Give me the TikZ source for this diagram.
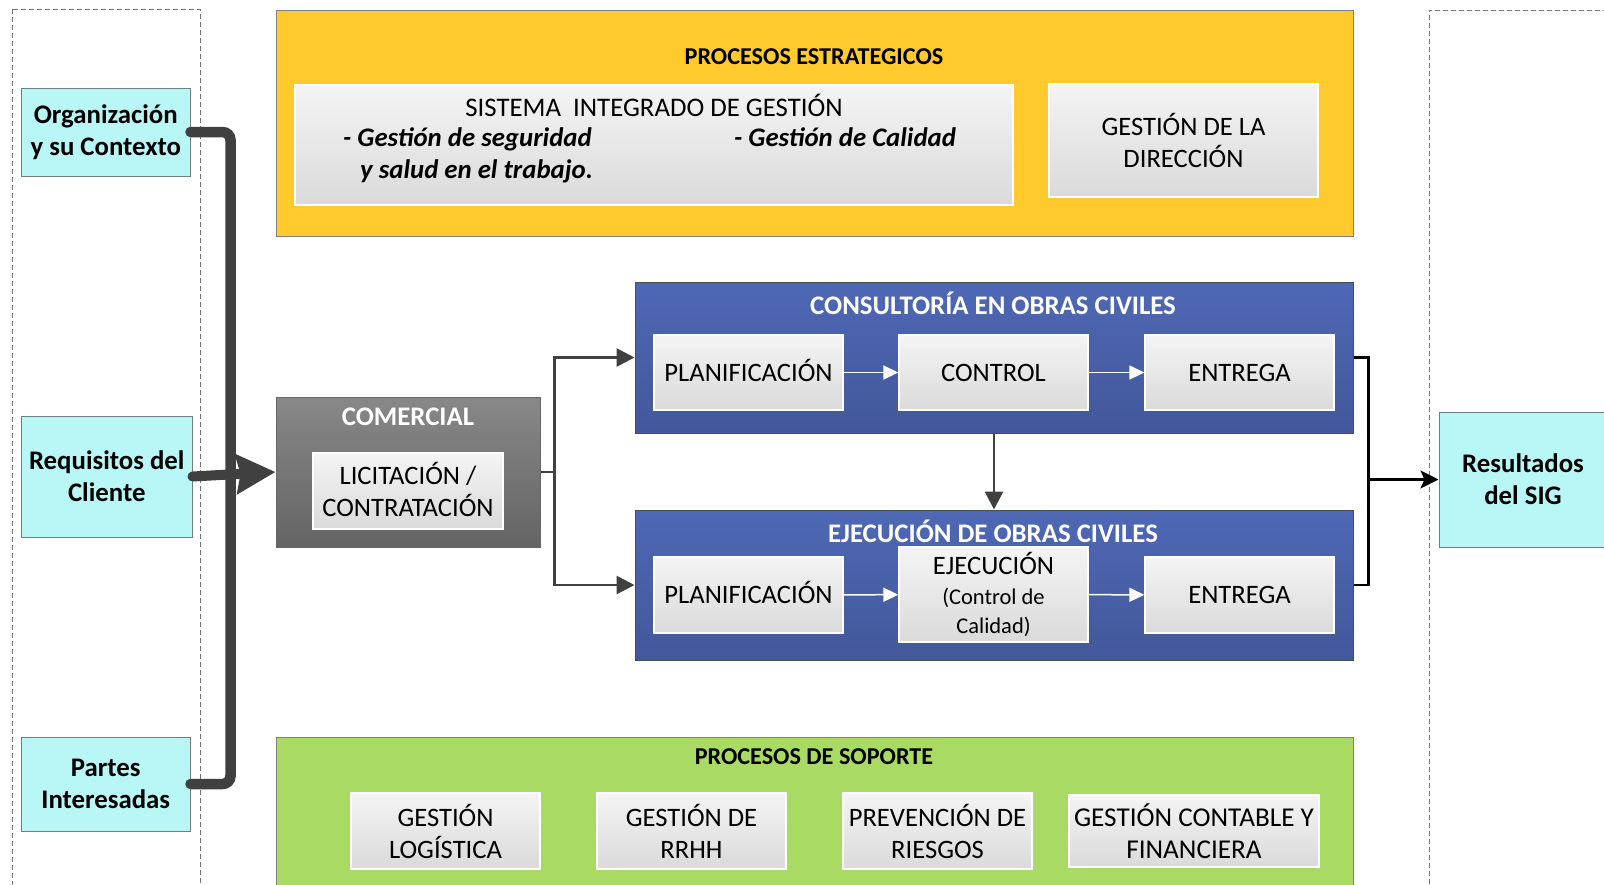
\documentclass[tikz,border=0pt]{standalone}
\usepackage{fontspec}
\setmainfont{Carlito}
\usetikzlibrary{arrows.meta}
\definecolor{yellowP}{HTML}{FFCA2E}
\definecolor{greenP}{HTML}{A9DB64}
\definecolor{blueTop}{HTML}{4F68B5}
\definecolor{blueBot}{HTML}{42589A}
\definecolor{grayTop}{HTML}{888888}
\definecolor{grayBot}{HTML}{646464}
\definecolor{cyanF}{HTML}{B9F6F6}
\definecolor{cyanD}{HTML}{6F7F7F}
\definecolor{lgTop}{HTML}{F4F4F4}
\definecolor{lgBot}{HTML}{DADADA}
\definecolor{dgray}{HTML}{404040}
\newcommand\fsz[2]{\fontsize{#1}{#2}\selectfont}
\tikzset{
  frame/.style={draw=black!55, line width=0.9pt, dash pattern=on 5pt off 3pt},
  panel/.style={rectangle, inner sep=0pt, line width=1pt},
  inbox/.style={rectangle, draw=white, line width=1.3pt, top color=lgTop, bottom color=lgBot,
    align=center, inner sep=0pt, font=\fsz{26.6}{32}},
  oneline/.style={text height=17.2pt, text depth=0pt},
  cyanbox/.style={rectangle, draw=cyanD, fill=cyanF, line width=1pt, align=center, inner sep=0pt,
    font=\bfseries\fsz{26.8}{32}},
  ttl/.style={font=\bfseries\fsz{24.2}{28}, inner sep=0pt},
  wttl/.style={font=\bfseries\fsz{26.8}{30}, text=white, inner sep=0pt},
  itl/.style={font=\bfseries\itshape\fsz{26.8}{32}, anchor=base west, inner sep=0pt},
  thickconn/.style={draw=dgray, line width=10.5pt, rounded corners=8pt, line cap=round},
  bigarrow/.style={draw=dgray, line width=10pt, line cap=round, -{Stealth[length=39pt,width=39pt,inset=4pt]}},
  darr/.style={draw=dgray, line width=2.7pt, -{Triangle[length=18pt,width=18pt]}},
  warr/.style={draw=white, line width=1.5pt, -{Triangle[length=15pt,width=14pt]}},
  barr/.style={draw=black, line width=2.5pt},
}
\begin{document}
\begin{tikzpicture}[x=1pt,y=-1pt]
\clip (0,0) rectangle (1604,884);
\fill[white] (0,0) rectangle (1604,884);
% dashed frames
\draw[frame] (12,9) rectangle (200,900);
\draw[frame] (1429,900) -- (1429,10) -- (1620,10);
% strategic panel
\node[panel, draw=black!50, fill=yellowP, minimum width=1077pt, minimum height=226pt] (est) at (814.5,123) {};
\node[ttl] (estT) at (814,57) {PROCESOS ESTRATEGICOS};
\node[inbox, minimum width=718pt, minimum height=120pt] (sig) at (654,145) {};
\node[font=\fsz{26.8}{32}, inner sep=0pt] (sig1) at (654,105) {SISTEMA\ \ INTEGRADO DE GESTIÓN};
\node[itl] (sig2) at (343,146) {- Gestión de seguridad};
\node[itl] (sig3) at (360,178) {y salud en el trabajo.};
\node[itl] (sig4) at (734,146) {- Gestión de Calidad};
\node[inbox, minimum width=269pt, minimum height=113pt] (dir) at (1183.5,140.5) {GESTIÓN DE LA\\DIRECCIÓN};
% left inputs
\node[cyanbox, minimum width=168.5pt, minimum height=88pt] (org) at (105.75,132) {Organización\\y su Contexto};
\node[cyanbox, minimum width=170.5pt, minimum height=121pt] (req) at (106.75,476.5) {Requisitos del\\Cliente};
\node[cyanbox, minimum width=168.5pt, minimum height=94pt] (par) at (105.75,784) {Partes\\Interesadas};
% comercial
\node[panel, draw=black!60, top color=grayTop, bottom color=grayBot, minimum width=264pt, minimum height=150pt] (com) at (408,472) {};
\node[wttl] (comT) at (408,417) {COMERCIAL};
\node[inbox, minimum width=190pt, minimum height=76pt] (lic) at (408,491) {};
\node[font=\fsz{26.6}{32}, align=center, inner sep=0pt] (licT) at (408,489) {LICITACIÓN /\\CONTRATACIÓN};
% consultoria
\node[panel, draw=black!70, top color=blueTop, bottom color=blueBot, minimum width=718pt, minimum height=151pt] (cons) at (994,357.5) {};
\node[wttl] (consT) at (993,303) {CONSULTORÍA EN OBRAS CIVILES};
\node[inbox, oneline, minimum width=189pt, minimum height=75pt] (p1) at (748.5,372.5) {PLANIFICACIÓN};
\node[inbox, oneline, minimum width=189pt, minimum height=75pt] (c1) at (993.5,372.5) {CONTROL};
\node[inbox, oneline, minimum width=189pt, minimum height=75pt] (e1) at (1239.5,372.5) {ENTREGA};
% ejecucion
\node[panel, draw=black!70, top color=blueTop, bottom color=blueBot, minimum width=718pt, minimum height=150pt] (ejec) at (994,585) {};
\node[wttl] (ejecT) at (993,531) {EJECUCIÓN DE OBRAS CIVILES};
\node[inbox, oneline, minimum width=189pt, minimum height=76pt] (p2) at (748.5,595) {PLANIFICACIÓN};
\node[inbox, minimum width=189pt, minimum height=95pt] (x2) at (993.5,594.5) {EJECUCIÓN\\[-2pt]{\fsz{22.5}{29}\selectfont(Control de}\\[-3pt]{\fsz{22.5}{29}\selectfont Calidad)}};
\node[inbox, oneline, minimum width=189pt, minimum height=76pt] (e2) at (1239.5,595) {ENTREGA};
% support
\node[panel, draw=black!50, fill=greenP, minimum width=1077pt, minimum height=170pt, anchor=north] (sop) at (814.5,737) {};
\node[ttl] (sopT) at (814,757) {PROCESOS DE SOPORTE};
\node[inbox, minimum width=189pt, minimum height=76pt] (s1) at (445.5,831) {GESTIÓN\\LOGÍSTICA};
\node[inbox, minimum width=189pt, minimum height=76pt] (s2) at (691.5,831) {GESTIÓN DE\\RRHH};
\node[inbox, minimum width=189pt, minimum height=76pt] (s3) at (937.5,831) {PREVENCIÓN DE\\RIESGOS};
\node[inbox, minimum width=250pt, minimum height=72pt, font=\fsz{27.2}{32}] (s4) at (1194,831) {GESTIÓN CONTABLE Y\\FINANCIERA};
% output
\node[cyanbox, minimum width=168pt, minimum height=135pt] (res) at (1523,479.5) {Resultados\\del SIG};
% connectors
\draw[thickconn] (org.east) -- ++(40,0) |- (par.east);
\draw[bigarrow] (req.east) -- (com.west);
\draw[darr] (com.east) -- ++(14,0) |- (cons.west);
\draw[darr] (com.east) -- ++(14,0) |- (ejec.west);
\draw[darr] (cons.south) -- (ejec.north);
\draw[warr] (p1) -- (c1);
\draw[warr] (c1) -- (e1);
\draw[warr] (p2) -- (x2);
\draw[warr] (x2) -- (e2);
\draw[barr] (cons.east) -- ++(15,0) |- (ejec.east);
\coordinate (rb) at (1368,479.5);
\draw[barr, -{Stealth[length=18pt,width=18pt,inset=4pt]}] (rb) -- (res.west);
\end{tikzpicture}
\end{document}
